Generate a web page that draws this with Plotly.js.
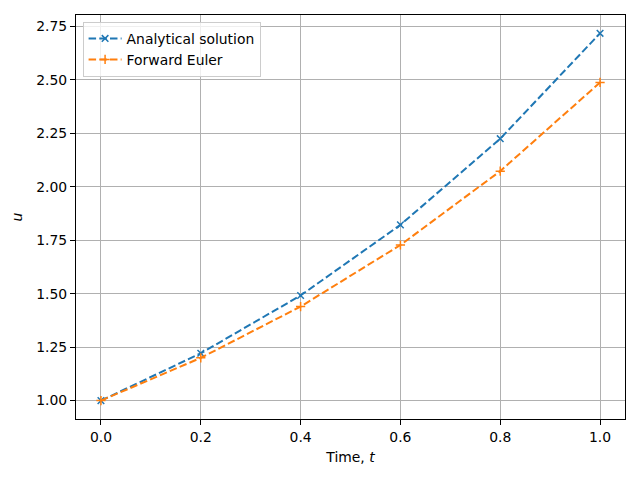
<!DOCTYPE html>
<html>
<head>
<meta charset="utf-8">
<script src="https://cdn.plot.ly/plotly-3.0.1.min.js"></script>
<style>html,body{margin:0;padding:0;background:#fff;}#chart{width:640px;height:480px;}</style>
</head>
<body>
<div id="chart"></div>
<script>
const timeValues = [0.0, 0.2, 0.4, 0.6, 0.8, 1.0];
const analyticalValues = [1.0, 1.2214, 1.4918, 1.8221, 2.2255, 2.7183];
const eulerValues = [1.0, 1.2, 1.44, 1.728, 2.0736, 2.4883];
const seriesNames = ["Analytical solution", "Forward Euler"];

const dashPattern = "7.5px,3.2px";
const traces = [
  {
    x: timeValues, y: analyticalValues, name: seriesNames[0],
    type: "scatter", mode: "lines+markers",
    line: {color: "#1f77b4", width: 2, dash: dashPattern},
    marker: {symbol: "x-thin", size: 6.6, color: "#1f77b4", line: {color: "#1f77b4", width: 1.5}}
  },
  {
    x: timeValues, y: eulerValues, name: seriesNames[1],
    type: "scatter", mode: "lines+markers",
    line: {color: "#ff7f0e", width: 2, dash: dashPattern},
    marker: {symbol: "cross-thin", size: 6.6, color: "#ff7f0e", line: {color: "#ff7f0e", width: 1.5}}
  }
];

const axisCommon = {
  showgrid: true, gridcolor: "#b0b0b0", gridwidth: 1,
  zeroline: false, showline: true, linecolor: "#000", linewidth: 1, mirror: true,
  ticks: "outside", ticklen: 5, tickwidth: 1, tickcolor: "#000",
  tickfont: {family: "DejaVu Sans", size: 13.9, color: "#000"}
};

const layout = {
  width: 640, height: 480,
  margin: {l: 76, r: 15, t: 15, b: 61},
  paper_bgcolor: "#fff", plot_bgcolor: "#fff",
  font: {family: "DejaVu Sans", size: 13.9, color: "#000"},
  xaxis: Object.assign({}, axisCommon, {
    range: [-0.05, 1.05], dtick: 0.2, tick0: 0, tickformat: ".1f",
    title: {text: "Time, <i>t</i>", font: {family: "DejaVu Sans", size: 13.9}, standoff: 8}
  }),
  yaxis: Object.assign({}, axisCommon, {
    range: [0.914, 2.804], dtick: 0.25, tick0: 1, tickformat: ".2f",
    title: {text: "<i>u</i>", font: {family: "DejaVu Sans", size: 13.9}, standoff: 10}
  }),
  showlegend: true,
  legend: {
    x: 0.012, y: 0.983, xanchor: "left", yanchor: "top",
    bgcolor: "rgba(255,255,255,0.8)", bordercolor: "#cccccc", borderwidth: 1,
    font: {family: "DejaVu Sans", size: 13.9, color: "#000"},
    itemwidth: 33, tracegroupgap: 0
  }
};

Plotly.newPlot("chart", traces, layout, {displayModeBar: false, staticPlot: true});
</script>
</body>
</html>
